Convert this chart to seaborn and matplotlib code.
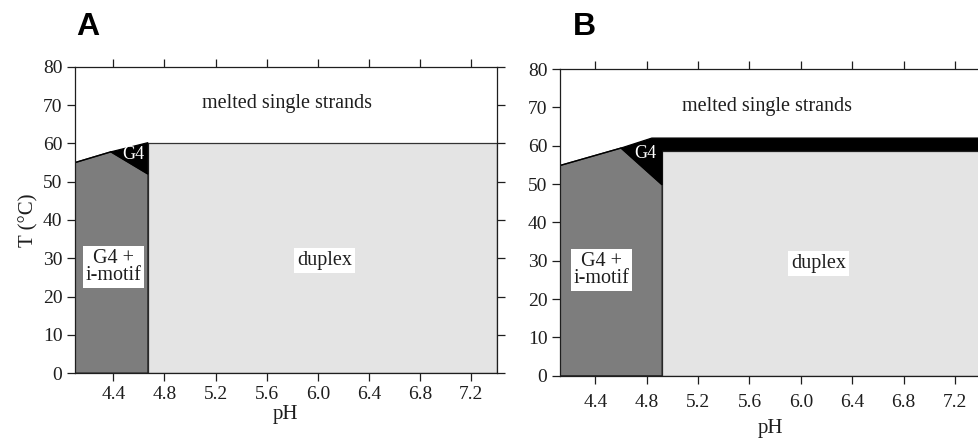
import matplotlib
matplotlib.use("Agg")
import matplotlib.pyplot as plt
import seaborn as sns

# Panel A phase regions (pH, T in °C)
a_mix_ph = [4.1, 4.1, 4.38, 4.67, 4.67]
a_mix_t = [0, 55, 57.8, 52, 0]
a_g4_ph = [4.38, 4.67, 4.67]
a_g4_t = [57.8, 60.2, 52]
a_dup_ph = [4.67, 7.4, 7.4, 4.67]
a_dup_t = [0, 0, 60, 60]

# Panel B phase regions
b_mix_ph = [4.12, 4.12, 4.6, 4.92, 4.92]
b_mix_t = [0, 54.8, 59.4, 49.8, 0]
b_g4_ph = [4.6, 4.84, 7.45, 7.45, 4.92, 4.92]
b_g4_t = [59.4, 62, 62, 58.7, 58.7, 49.8]
b_dup_ph = [4.92, 7.45, 7.45, 4.92]
b_dup_t = [0, 0, 58.7, 58.7]

x_ticks = [4.4, 4.8, 5.2, 5.6, 6.0, 6.4, 6.8, 7.2]
y_ticks = [0, 10, 20, 30, 40, 50, 60, 70, 80]

sns.set_theme(style="ticks")
plt.rcParams["font.family"] = ["Liberation Serif", "DejaVu Serif"]

fig = plt.figure(figsize=(9.79, 4.4), dpi=100)
ax_a = fig.add_axes([0.0766, 0.152, 0.431, 0.696])
ax_b = fig.add_axes([0.572, 0.146, 0.431, 0.697])

grey_dark = "#7d7d7d"
grey_light = "#e4e4e4"
ink = "#1e1e1e"
box = dict(facecolor="white", edgecolor="none", pad=2)

panels = [
    (ax_a, "A", 0.078, (4.1, 7.4), a_mix_ph, a_mix_t, a_g4_ph, a_g4_t, a_dup_ph, a_dup_t,
     (5.76, 70.5), (6.05, 29.5), (4.40, 27.7), (4.56, 57.0), 4),
    (ax_b, "B", 0.585, (4.125, 7.41), b_mix_ph, b_mix_t, b_g4_ph, b_g4_t, b_dup_ph, b_dup_t,
     (5.74, 70.2), (6.14, 29.3), (4.45, 27.6), (4.79, 57.9), 8),
]

for (ax, letter, letter_x, xlim, mph, mt, gph, gt, dph, dt,
     pos_melt, pos_dup, pos_mix, pos_g4, xpad) in panels:
    ax.fill(dph, dt, facecolor=grey_light, edgecolor="#333333", lw=0.9)
    ax.fill(mph, mt, facecolor=grey_dark, edgecolor="#222222", lw=0.9)
    ax.fill(gph, gt, facecolor="black", edgecolor="black", lw=0.9)
    sns.lineplot(x=mph[1:3], y=mt[1:3], ax=ax, color="black", lw=1.0)

    ax.set_xlim(*xlim)
    ax.set_ylim(0, 80)
    ax.set_xticks(x_ticks)
    ax.set_xticklabels([f"{v:.1f}" for v in x_ticks])
    ax.set_yticks(y_ticks)
    ax.tick_params(axis="both", direction="out", length=6, width=0.9,
                   labelsize=14, color=ink, labelcolor=ink,
                   top=True, right=True, pad=3)
    ax.tick_params(axis="x", pad=xpad - 1)
    for s in ax.spines.values():
        s.set_linewidth(0.9)
        s.set_color(ink)
    ax.set_xlabel("pH", fontsize=15, color=ink, labelpad=xpad - 2)

    ax.text(*pos_melt, "melted single strands", ha="center", va="center",
            fontsize=14.5, color=ink)
    ax.text(*pos_dup, "duplex", ha="center", va="center", fontsize=14.5,
            color=ink, bbox=box)
    ax.text(*pos_mix, "G4 +\ni-motif", ha="center", va="center", fontsize=14.5,
            color=ink, linespacing=0.9, bbox=box)
    ax.text(*pos_g4, "G4", ha="center", va="center", fontsize=13, color="white")

    fig.text(letter_x, 0.921, letter, fontsize=23, fontweight="bold",
             family="Liberation Sans", color="black", ha="left", va="baseline")

ax_a.set_ylabel("T (°C)", fontsize=15, color=ink, labelpad=3)
ax_b.set_ylabel("")

fig.savefig("out.png", dpi=100)
